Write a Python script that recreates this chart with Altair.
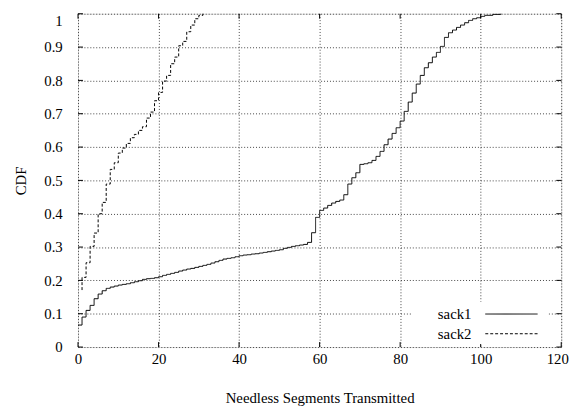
import altair as alt
import pandas as pd

# ---- data ----
series_names = ["sack1", "sack2"]

sack1_x = [0, 1, 2, 3, 4, 5, 6, 7, 8, 9, 10, 11, 12, 13, 14, 15, 16, 17, 18, 19,
           20, 21, 22, 23, 24, 25, 26, 27, 28, 29, 30, 31, 32, 33, 34, 35, 36, 37, 38, 39,
           40, 41, 42, 43, 44, 45, 46, 47, 48, 49, 50, 51, 52, 53, 54, 55, 56, 57, 58, 59,
           60, 61, 62, 63, 64, 65, 66, 67, 68, 69, 70, 71, 72, 73, 74, 75, 76, 77, 78, 79,
           80, 81, 82, 83, 84, 85, 86, 87, 88, 89, 90, 91, 92, 93, 94, 95, 96, 97, 98, 99,
           100, 101, 103, 105]
sack1_cdf = [0.066, 0.09, 0.11, 0.125, 0.145, 0.159, 0.169, 0.176, 0.180, 0.183,
             0.186, 0.188, 0.190, 0.193, 0.196, 0.199, 0.203, 0.205, 0.206, 0.208,
             0.211, 0.215, 0.218, 0.221, 0.224, 0.228, 0.231, 0.234, 0.236, 0.239,
             0.242, 0.245, 0.248, 0.252, 0.256, 0.260, 0.264, 0.266, 0.268, 0.271,
             0.274, 0.276, 0.277, 0.279, 0.280, 0.282, 0.284, 0.286, 0.288, 0.290,
             0.292, 0.296, 0.299, 0.302, 0.304, 0.306, 0.308, 0.314, 0.343, 0.389,
             0.410, 0.417, 0.425, 0.432, 0.437, 0.441, 0.457, 0.489, 0.508, 0.523,
             0.548, 0.550, 0.553, 0.560, 0.572, 0.587, 0.607, 0.624, 0.641, 0.658,
             0.678, 0.707, 0.735, 0.762, 0.789, 0.815, 0.838, 0.853, 0.870, 0.884,
             0.902, 0.929, 0.943, 0.951, 0.959, 0.966, 0.973, 0.980, 0.985, 0.988,
             0.992, 0.995, 0.998, 1.0]

sack2_x = [1, 1, 2, 3, 4, 5, 6, 7, 8, 9, 10, 11, 12, 13, 14, 15, 16, 17, 18, 19,
           20, 21, 22, 23, 24, 25, 26, 27, 28, 29, 30, 31]
sack2_cdf = [0.171, 0.209, 0.253, 0.302, 0.342, 0.400, 0.434, 0.489, 0.533, 0.553,
             0.582, 0.597, 0.611, 0.628, 0.638, 0.650, 0.661, 0.687, 0.705, 0.739,
             0.764, 0.798, 0.815, 0.850, 0.870, 0.904, 0.917, 0.946, 0.966, 0.985,
             0.995, 1.0]

x_ticks = [0, 20, 40, 60, 80, 100, 120]
y_ticks = [0, 0.1, 0.2, 0.3, 0.4, 0.5, 0.6, 0.7, 0.8, 0.9, 1]

FONT = "Liberation Serif"
W, H = 490, 338

rows = []
for xv, yv in zip(sack1_x, sack1_cdf):
    rows.append({"series": series_names[0], "x": xv, "cdf": yv, "order": len(rows)})
for xv, yv in zip(sack2_x, sack2_cdf):
    rows.append({"series": series_names[1], "x": xv, "cdf": yv, "order": len(rows)})
df = pd.DataFrame(rows)

xscale = alt.Scale(domain=[0, 120], nice=False, zero=False)
yscale = alt.Scale(domain=[0, 1], nice=False, zero=False)

x_axis = alt.Axis(values=x_ticks, title="Needless Segments Transmitted", grid=True,
                  gridDash=[1, 2], gridColor="#444", gridWidth=1, gridOpacity=1,
                  tickSize=0, domain=False, labelFont=FONT, labelFontSize=15,
                  labelColor="black", labelPadding=5, titleFont=FONT, titleFontSize=15,
                  titleFontWeight="normal", titleColor="black", titlePadding=24,
                  labelFlush=False, labelOverlap=False,
                  labelOffset={"condition": {"test": "datum.value == 120", "value": -4}, "value": 0})
y_axis = alt.Axis(values=y_ticks, title="CDF", grid=True, gridDash=[1, 2],
                  gridColor="#444", gridWidth=1, gridOpacity=1, tickSize=0, domain=False,
                  labelFont=FONT, labelFontSize=15, labelColor="black", labelPadding=16,
                  titleFont=FONT, titleFontSize=15, titleFontWeight="normal",
                  titleColor="black", titlePadding=16, labelFlush=False, labelOverlap=False,
                  labelBaseline={"condition": {"test": "datum.value == 1", "value": "top"}, "value": "middle"},
                  labelExpr="datum.value == 0 ? '0' : datum.value == 1 ? '1' : format(datum.value, '.1f')")

lines = alt.Chart(df).mark_line(interpolate="step-after", strokeWidth=1).encode(
    x=alt.X("x:Q", scale=xscale, axis=x_axis),
    y=alt.Y("cdf:Q", scale=yscale, axis=y_axis),
    color=alt.Color("series:N", scale=alt.Scale(domain=series_names, range=["black", "black"]), legend=None),
    strokeDash=alt.StrokeDash("series:N", scale=alt.Scale(domain=series_names, range=[[1, 0], [3, 2]]), legend=None),
    detail="series:N",
    order="order:Q",
)

# inward tick marks on all four sides (gnuplot style)
xt = pd.DataFrame({"x": x_ticks})
yt = pd.DataFrame({"cdf": y_ticks})
tick_layers = [
    alt.Chart(xt).mark_rule(color="black", strokeWidth=1).encode(
        x=alt.X("x:Q", scale=xscale, axis=x_axis), y=alt.value(H), y2=alt.value(H - 5)),
    alt.Chart(xt).mark_rule(color="black", strokeWidth=1).encode(
        x=alt.X("x:Q", scale=xscale, axis=x_axis), y=alt.value(0), y2=alt.value(5)),
    alt.Chart(yt).mark_rule(color="black", strokeWidth=1).encode(
        y=alt.Y("cdf:Q", scale=yscale, axis=y_axis), x=alt.value(0), x2=alt.value(5)),
    alt.Chart(yt).mark_rule(color="black", strokeWidth=1).encode(
        y=alt.Y("cdf:Q", scale=yscale, axis=y_axis), x=alt.value(W), x2=alt.value(W - 5)),
]

# legend (label left of sample, bottom right, white box without border)
leg_bg = alt.Chart(pd.DataFrame({"a": [0]})).mark_rect(fill="white").encode(
    x=alt.value(338), x2=alt.value(477), y=alt.value(292), y2=alt.value(335))
legend_layers = [leg_bg]
for i, name in enumerate(series_names):
    ypos = 304.5 + 20 * i
    ldf = pd.DataFrame({"series": [name]})
    legend_layers.append(
        alt.Chart(ldf).mark_text(align="right", baseline="middle", font=FONT, fontSize=15,
                                 color="black").encode(
            text="series:N", x=alt.value(399), y=alt.value(ypos)))
    legend_layers.append(
        alt.Chart(ldf).mark_rule(color="black", strokeWidth=1,
                                 strokeDash=[1, 0] if i == 0 else [3, 2]).encode(
            x=alt.value(413), x2=alt.value(466), y=alt.value(ypos)))

chart = alt.layer(lines, *tick_layers, *legend_layers).properties(
    width=W, height=H,
    autosize=alt.AutoSizeParams(type="none"),
    padding={"left": 71, "top": 3, "right": 16, "bottom": 60},
).configure_view(stroke="black", strokeWidth=1).configure(background="white")

chart.save("out.html", embed_options={"renderer": "svg", "actions": False})
